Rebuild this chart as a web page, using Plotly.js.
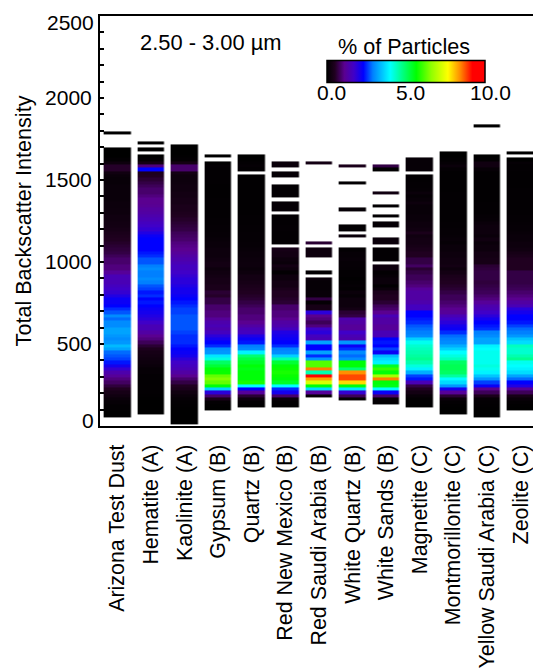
<!DOCTYPE html>
<html><head><meta charset="utf-8">
<script src="https://cdn.plot.ly/plotly-3.0.1.min.js"></script>
<style>html,body{margin:0;padding:0;background:#fff}</style></head>
<body><div id="chart" style="width:533px;height:669px"></div>
<script>
const N = null;
const categories = ["Arizona Test Dust","Hematite (A)","Kaolinite (A)","Gypsum (B)","Quartz (B)","Red New Mexico (B)","Red Saudi Arabia (B)","White Quartz (B)","White Sands (B)","Magnetite (C)","Montmorillonite (C)","Yellow Saudi Arabia (C)","Zeolite (C)"];
// percent of particles per intensity bin, listed from the lowest bin upward; N = empty bin
const arizona = [N,N,0,0,.05,.05,.1,.15,.25,.35,.5,.65,.85,1,1.2,1.4,1.8,2.1,2.4,2.6,2.7,2.8,3.2,3.4,3.1,3,3.1,3.2,3.2,3,3,2.8,3,2.7,2.5,2.3,2.2,2.2,2,1.8,1.7,1.6,1.5,1.5,1.5,1.2,1,1,.9,.9,.8,.7,.65,.6,.55,.5,.45,.4,.35,.3,.28,.25,.25,.2,.2,.18,.18,.15,.15,.15,.15,.15,.12,.12,.15,.25,.55,.55,.2,.05,0,0,0,N,N,N,N,0];
const hematite = [N,N,N,0,0,0,0,.02,.03,.05,.05,.05,.05,.06,.06,.1,.1,.15,.2,.25,.3,.35,.45,.6,.8,1,1.1,1.3,1.5,1.5,1.7,1.9,2,2.1,2.2,2.3,2.4,2.3,2.5,2.4,2.6,2.7,2.9,3,2.9,2.9,3,2.9,2.7,2.7,2.5,2.4,2.3,2.3,2.3,2.3,2.2,2,1.8,1.7,1.6,1.5,1.4,1.3,1.25,1.15,1.1,1.1,1,.9,.9,.8,.7,.6,.5,.45,2.3,1,.3,.05,0,N,0,N,0];
const kaolinite = [0,0,0,0,.02,.03,.05,.1,.15,.25,.4,.5,.7,.9,1.1,1.3,1.5,1.6,1.7,1.9,2.1,2.2,2.3,2.4,2.5,2.5,2.5,2.6,2.7,2.7,2.7,2.7,2.7,2.6,2.6,2.5,2.4,2.3,2.2,2.1,2.1,2,1.9,1.9,1.8,1.7,1.6,1.6,1.5,1.4,1.3,1.2,1.1,1.05,1,.9,.85,.8,.7,.65,.6,.55,.5,.45,.4,.4,.35,.35,.3,.3,.25,.25,.22,.2,.2,.3,.9,.9,.3,.05,.02,0,0,0];
const gypsum = [N,N,N,N,0,.02,.05,.4,.9,1.9,3.6,5.6,6.3,6.5,6.3,5.7,5.6,5.3,5,4.2,3.8,3.1,3,2.5,2.3,2.1,1.9,1.6,1.4,1.5,1.4,1.2,1,1,.9,.9,.7,.7,.55,.6,.4,.4,.35,.35,.3,.25,.2,.3,.3,.25,.2,.2,.2,.15,.15,.12,.1,.1,.08,.08,.06,.06,.05,.05,.04,.04,.04,.04,.03,.03,.03,.03,.05,.05,.05,.05,.05,.06,.02,N,0];
const quartz = [N,N,N,N,N,.02,.05,.2,.6,1.2,2.3,4,5.8,5.6,5.6,5.6,5.5,5.6,5.4,5.2,4.9,3.9,3,2.9,2.4,2.2,2,1.6,1.5,1.3,1.1,1,1,.9,.9,.8,.7,.6,.55,.5,.45,.4,.35,.3,.3,.2,.15,.2,.2,.18,.15,.15,.12,.1,.1,.08,.08,.08,.06,.06,.05,.05,.04,.03,.03,.03,.03,.03,.03,.03,.03,.03,.03,.03,.03,N,.05,.08,.05,.02,0];
const redNewMexico = [N,N,N,N,N,.02,.03,.15,.9,2.1,2.5,4,5.4,5.6,5.7,5.8,5.7,5.6,5.3,4.5,3.6,3,2.9,2.5,2.3,2.2,2.1,2,1.6,1.4,1.3,1.1,1,1,.9,.9,.6,.55,.5,.5,.4,.3,.3,.2,.2,.05,.2,.3,.15,.2,.3,.3,.35,N,.05,.05,.05,.05,.06,.06,.05,.05,.05,N,.08,.08,.08,N,.05,.05,.05,.05,N,N,.08,.08,N,.15,.15];
const redSaudiArabia = [N,N,N,N,N,N,N,N,.1,1.2,3.7,5.6,7.3,8.3,9.8,4.5,8.5,6.2,6.2,3.1,2.5,3.2,2.3,2.3,3.2,1.5,1.6,1.9,1.7,1,.8,1,1.1,1.9,.35,.35,.08,.7,.12,.12,.1,.1,.1,.15,N,.05,N,N,N,N,.2,.2,.2,N,.6,N,N,N,N,N,N,N,N,N,N,N,N,N,N,N,N,N,N,N,N,N,N,N,.3];
const whiteQuartz = [N,N,N,N,N,N,N,.05,.8,1.8,3.8,5.6,7.9,8.8,8.8,8.4,4.9,5.6,5.6,3,2.8,3,2.5,2.2,3.1,1.4,1.5,1.7,1.2,1.2,1.3,1.4,.7,.6,.3,.2,.2,.2,.1,.15,.05,.08,.05,.02,.05,.05,.08,.1,.1,.12,.1,.1,.05,N,N,N,.15,N,.05,.05,N,N,N,N,.08,N,N,N,N,N,N,N,.03,N,N,N,N,.4];
const whiteSands = [N,N,N,N,N,N,.05,.1,.9,2.2,4,5.5,5.6,8.5,6.8,5.6,6,5.4,3.9,3.7,3.4,2.2,2.6,2.3,2.4,2.3,1.5,1.5,1.2,1.2,1.3,1.3,1.5,1.1,.9,.8,.6,.5,.5,.4,.15,.03,.15,.15,.1,.05,.2,.2,N,.05,.05,.05,.05,N,.15,.15,N,N,N,.08,.08,N,.03,N,N,.03,N,N,N,.25,N,N,N,N,N,N,.02,.7];
const magnetite = [N,N,N,N,N,0,.02,.05,.12,.3,.5,.7,1.5,2.4,2.6,3.3,3.9,4.2,4.5,4.7,4.6,4.5,4.4,4.3,4.1,3.6,3,2.9,2.8,2.7,2.5,2.4,2.3,2.3,1.6,1.6,1.4,1.3,1.3,1.3,1.2,1,.9,.8,.8,.7,.6,.85,.7,.7,.5,.5,.4,.35,.3,.3,.25,.4,.25,.2,.2,.15,.15,.12,.12,.12,.2,.12,.08,.15,.08,.06,.06,.05,.05,N,.1,.1,.1,.1];
const montmorillonite = [N,N,N,0,0,.02,.05,.15,.6,1.2,2.1,3.1,3.7,4,4.6,5,5.1,5.1,5,4.4,4.2,4,3.6,3.3,3,2.9,2.8,2.5,2.2,2.1,1.9,1.7,1.5,1.2,1.1,1,.9,.8,.8,.7,.6,.55,.5,.45,.4,.3,.2,.3,.25,.25,.2,.2,.15,.15,.1,.12,.1,.08,.08,.06,.06,.05,.05,.05,.04,.04,.04,.04,.04,.04,.03,.03,.03,.03,.03,.03,.06,.15,.08,.03,0,0];
const yellowSaudiArabia = [N,N,0,0,.02,.03,.05,.1,.4,.8,1.1,2.2,2.6,3.1,3.5,3.9,4.1,4.2,4.1,4.1,4.1,4.1,4,3.9,3.2,3.2,3,2.9,2.5,2.4,2.3,2.1,1.9,1.7,1.5,1.4,1.2,1,.9,.8,.75,.7,.65,.7,.7,.7,.65,.6,.35,.35,.3,.3,.2,.2,.15,.25,.15,.2,.2,.2,.15,.1,.08,.05,.04,.04,.04,.03,.03,.03,.03,.03,.03,.03,.03,.03,.1,.25,.25,.03,0,N,N,N,N,N,N,N,N,0];
const zeolite = [N,N,N,N,0,.02,.05,.15,.35,.8,1.2,2,2.3,2.8,3.2,3.7,3.9,4,4.1,4.7,4.5,4.3,4.3,4.4,3.7,3.5,3.1,2.9,2.8,2.6,2.4,2.3,2.3,2.1,1.9,1.5,1.3,1.1,1,.9,.8,.75,.7,.7,.7,.7,.5,.5,.5,.5,.4,.35,.25,.2,.2,.15,.15,.12,.1,.1,.08,.06,.06,.05,.05,.05,.04,.04,.04,.04,.04,.03,.03,.03,.03,.03,.05,.05,.08,0,N,0];
const columns = [arizona,hematite,kaolinite,gypsum,quartz,redNewMexico,redSaudiArabia,whiteQuartz,whiteSands,magnetite,montmorillonite,yellowSaudiArabia,zeolite];
const rowCount = 90;
const z = [];
for (let r = 0; r < rowCount; r++) z.push(columns.map(c => (r < c.length ? c[r] : null)));

const colorStops = [[0,'#000000'],[0.05,'#200020'],[0.11,'#5a0090'],[0.17,'#4000c8'],[0.23,'#0000ff'],[0.29,'#0080ff'],[0.40,'#00ffff'],[0.48,'#00ff80'],[0.565,'#00ff00'],[0.66,'#90ff00'],[0.765,'#ffff00'],[0.84,'#ff9000'],[0.92,'#ff0000'],[1,'#ff0000']];
const yTicks = [], yText = [];
for (let v = 0; v <= 2500; v += 100) { yTicks.push(v); yText.push((v % 500 === 0 && v > 0 && v < 2500) ? String(v) : ''); }
const FONT = 'Liberation Sans, Arial, sans-serif';
const scaleLabels = ['0.0','5.0','10.0'];

const trace = {type:'heatmap', x:categories, y0:22.3, dy:20.3, z:z, zmin:0, zmax:10, xgap:6.6,
  colorscale:colorStops, hoverinfo:'skip',
  colorbar:{orientation:'h', thickness:22, thicknessmode:'pixels', len:158, lenmode:'pixels',
    x:0.7066, xanchor:'center', y:0.834, yanchor:'bottom', xpad:0, ypad:0,
    outlinecolor:'#000', outlinewidth:1.5,
    tickmode:'array', tickvals:[0,5,10], ticktext:['','',''], ticks:'', ticklen:0}};

const label = (x,y,text,size) => ({xref:'paper',yref:'paper',x:(x-100)/433,y:(426-y)/410,xanchor:'center',yanchor:'middle',text:text,showarrow:false,font:{family:FONT,size:size,color:'#000'}});

const layout = {width:533, height:669, margin:{l:100,r:0,t:16,b:243}, paper_bgcolor:'#fff', plot_bgcolor:'#fff',
  font:{family:FONT,color:'#000'},
  xaxis:{type:'category', range:[-0.518,12.369], showgrid:false, zeroline:false, showline:true, linecolor:'#000', linewidth:2,
    ticks:'', tickangle:-90, tickfont:{family:FONT,size:21.4,color:'#000'}, ticklabelstandoff:8, mirror:true},
  yaxis:{range:[0,2500], showgrid:false, zeroline:false, showline:true, linecolor:'#000', linewidth:2,
    tickmode:'array', tickvals:yTicks, ticktext:yText, ticks:'inside', ticklen:4, tickwidth:1.5, tickcolor:'#000',
    tickfont:{family:FONT,size:21,color:'#000'}, ticklabelstandoff:2,
    title:{text:'Total Backscatter Intensity', standoff:8, font:{family:FONT,size:21.6,color:'#000'}}},
  annotations:[
    {xref:'paper',yref:'paper',x:0,y:1,xanchor:'right',yanchor:'middle',xshift:-4,yshift:-6,text:'2500',showarrow:false,font:{family:FONT,size:21,color:'#000'}},
    {xref:'paper',yref:'paper',x:0,y:0,xanchor:'right',yanchor:'middle',xshift:-4,yshift:6,text:'0',showarrow:false,font:{family:FONT,size:21,color:'#000'}},
    label(210.5,43,'2.50 - 3.00 \u00b5m',21.9),
    label(404,47,'% of Particles',21.6),
    label(331,93,scaleLabels[0],21),
    label(410,93,scaleLabels[1],21),
    label(490,93,scaleLabels[2],21)
  ]};
Plotly.newPlot('chart',[trace],layout,{displayModeBar:false,responsive:false});
</script></body></html>
